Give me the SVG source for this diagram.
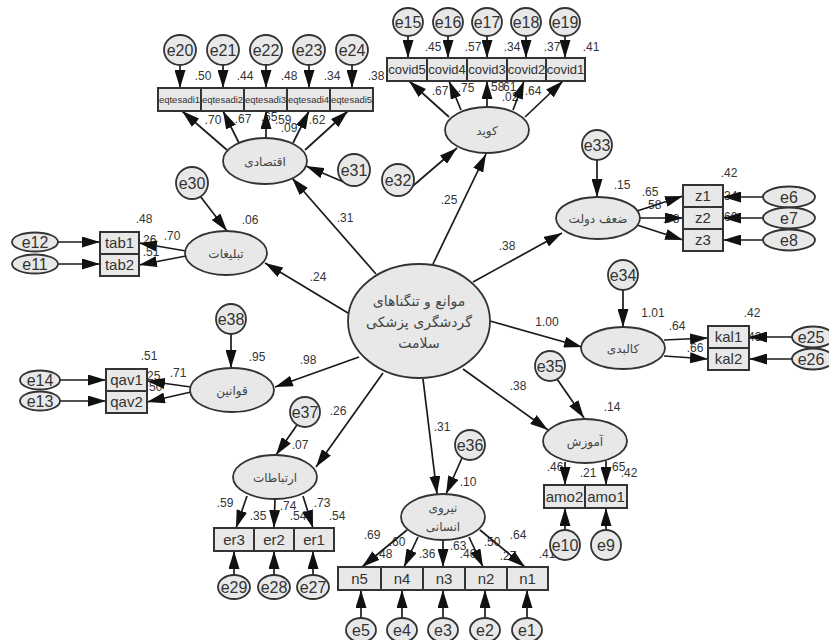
<svg xmlns="http://www.w3.org/2000/svg" width="829" height="640" viewBox="0 0 829 640">
<style>
.n{fill:#e8e8e8;stroke:#333;stroke-width:1.8}
.b{fill:#e8e8e8;stroke:#333;stroke-width:2}
.c{stroke:#1a1a1a;stroke-width:1.7;fill:none;marker-end:url(#a)}
.l{font-family:"Liberation Sans",Arial,sans-serif;font-size:12px;fill:#333;text-anchor:middle}
.e{font-family:"Liberation Sans",Arial,sans-serif;font-size:16px;fill:#333;text-anchor:middle}
.bx{font-family:"Liberation Sans",Arial,sans-serif;font-size:15px;fill:#333;text-anchor:middle}
.cv{font-family:"Liberation Sans",Arial,sans-serif;font-size:13px;fill:#333;text-anchor:middle}
.eq{font-family:"Liberation Sans",Arial,sans-serif;font-size:9.5px;fill:#333;text-anchor:middle}
.fa{font-family:"DejaVu Sans","Noto Sans",sans-serif;font-size:12px;fill:#444;text-anchor:middle}
.fm{font-family:"DejaVu Sans","Noto Sans",sans-serif;font-size:14px;fill:#444;text-anchor:middle}
</style>
<defs>
<marker id="a" markerUnits="userSpaceOnUse" markerWidth="18" markerHeight="11" refX="18" refY="5.5" orient="auto" viewBox="0 0 18 11"><path d="M0,0 L18,5.5 L0,11 z" fill="#111"/></marker>
</defs>
<rect width="829" height="640" fill="#fff"/>
<g id="labels">
<text class="l" x="203" y="80">.50</text><text class="l" x="245" y="80">.44</text><text class="l" x="289" y="80">.48</text><text class="l" x="332" y="80">.34</text><text class="l" x="376" y="80">.38</text>
<text class="l" x="213" y="124">.70</text><text class="l" x="243" y="123">.67</text><text class="l" x="269" y="121">.65</text><text class="l" x="283" y="124">.59</text><text class="l" x="289" y="132">.09</text><text class="l" x="317" y="124">.62</text>
<text class="l" x="433" y="51">.45</text><text class="l" x="473" y="51">.57</text><text class="l" x="512" y="51">.34</text><text class="l" x="552" y="51">.37</text><text class="l" x="591" y="51">.41</text>
<text class="l" x="440" y="95">.67</text><text class="l" x="466" y="92">.75</text><text class="l" x="496" y="91">.58</text><text class="l" x="508" y="91">.61</text><text class="l" x="510" y="101">.02</text><text class="l" x="533" y="95">.64</text>
<text class="l" x="345" y="222">.31</text><text class="l" x="449" y="204">.25</text><text class="l" x="507" y="250">.38</text><text class="l" x="547" y="326">1.00</text><text class="l" x="518" y="390">.38</text><text class="l" x="442" y="431">.31</text><text class="l" x="338" y="415">.26</text><text class="l" x="308" y="364">.98</text><text class="l" x="318" y="281">.24</text>
<text class="l" x="250" y="224">.06</text><text class="l" x="144" y="223">.48</text><text class="l" x="172" y="240">.70</text><text class="l" x="148" y="244">.26</text><text class="l" x="151" y="256">.51</text>
<text class="l" x="149" y="360">.51</text><text class="l" x="178" y="377">.71</text><text class="l" x="152" y="380">.25</text><text class="l" x="154" y="391">.50</text><text class="l" x="257" y="361">.95</text>
<text class="l" x="622" y="189">.15</text><text class="l" x="650" y="196">.65</text><text class="l" x="653" y="209">.58</text><text class="l" x="671" y="223">.78</text><text class="l" x="729" y="177">.42</text><text class="l" x="729" y="200">.34</text><text class="l" x="729" y="221">.60</text>
<text class="l" x="653" y="317">1.01</text><text class="l" x="677" y="330">.64</text><text class="l" x="695" y="352">.66</text><text class="l" x="752" y="317">.42</text><text class="l" x="753" y="341">.43</text>
<text class="l" x="612" y="411">.14</text><text class="l" x="555" y="471">.46</text><text class="l" x="588" y="477">.21</text><text class="l" x="617" y="471">.65</text><text class="l" x="629" y="477">.42</text>
<text class="l" x="300" y="449">.07</text><text class="l" x="225" y="507">.59</text><text class="l" x="258" y="520">.35</text><text class="l" x="288" y="510">.74</text><text class="l" x="298" y="520">.54</text><text class="l" x="322" y="507">.73</text><text class="l" x="337" y="520">.54</text>
<text class="l" x="468" y="486">.10</text>
<text class="l" x="372" y="539">.69</text><text class="l" x="384" y="558">.48</text><text class="l" x="397" y="546">.60</text><text class="l" x="427" y="558">.36</text><text class="l" x="458" y="550">.63</text><text class="l" x="468" y="558">.40</text><text class="l" x="492" y="546">.50</text><text class="l" x="508" y="560">.27</text><text class="l" x="518" y="539">.64</text><text class="l" x="547" y="558">.41</text>
</g>
<g id="connectors">
<path class="c" d="M180,65 L180,88"/><path class="c" d="M223,65 L223,88"/><path class="c" d="M266,65 L266,88"/><path class="c" d="M309,65 L309,88"/><path class="c" d="M352,65 L352,88"/>
<path class="c" d="M408,36 L408,58"/><path class="c" d="M448,36 L448,58"/><path class="c" d="M487,36 L487,58"/><path class="c" d="M526,36 L526,58"/><path class="c" d="M565,36 L565,58"/>
<path class="c" d="M346,183 L306,166"/><path class="c" d="M200,196 L227,231"/><path class="c" d="M407,191 L457,148"/>
<path class="c" d="M597,160 L597,197"/><path class="c" d="M623,290 L623,327"/><path class="c" d="M557,379 L584,418"/><path class="c" d="M462,458 L446,494"/><path class="c" d="M297,425 L276,455"/><path class="c" d="M231,334 L231,368"/>
<path class="c" d="M763,197 L723,197"/><path class="c" d="M763,218 L723,218"/><path class="c" d="M763,240 L723,240"/>
<path class="c" d="M792,337 L749,337"/><path class="c" d="M792,359 L749,359"/>
<path class="c" d="M58,242 L100,242"/><path class="c" d="M58,264 L100,264"/>
<path class="c" d="M60,380 L106,380"/><path class="c" d="M60,401 L106,401"/>
<path class="c" d="M234,575 L234,551"/><path class="c" d="M274,575 L274,551"/><path class="c" d="M313,575 L313,551"/>
<path class="c" d="M361,618 L361,590"/><path class="c" d="M402,618 L402,590"/><path class="c" d="M443,618 L443,590"/><path class="c" d="M485,618 L485,590"/><path class="c" d="M527,618 L527,590"/>
<path class="c" d="M565,530 L565,508"/><path class="c" d="M606,530 L606,508"/>
<path class="c" d="M227,150 L182,111"/><path class="c" d="M239,143 L223,111"/><path class="c" d="M266,138 L266,111"/><path class="c" d="M293,143 L309,111"/><path class="c" d="M305,150 L348,111"/>
<path class="c" d="M449,117 L409,81"/><path class="c" d="M461,110 L449,81"/><path class="c" d="M487,107 L487,81"/><path class="c" d="M513,110 L524,81"/><path class="c" d="M525,117 L563,81"/>
<path class="c" d="M637,211 L683,196"/><path class="c" d="M640,218 L683,218"/><path class="c" d="M637,225 L683,240"/>
<path class="c" d="M664,340 L708,338"/><path class="c" d="M664,356 L708,359"/>
<path class="c" d="M186,251 L139,243"/><path class="c" d="M186,256 L139,265"/>
<path class="c" d="M191,387 L147,381"/><path class="c" d="M191,392 L147,402"/>
<path class="c" d="M247,496 L236,528"/><path class="c" d="M275,499 L274,528"/><path class="c" d="M303,496 L313,528"/>
<path class="c" d="M407,530 L362,567"/><path class="c" d="M418,537 L404,567"/><path class="c" d="M443,540 L443,567"/><path class="c" d="M469,537 L483,567"/><path class="c" d="M480,530 L525,567"/>
<path class="c" d="M565,462 L565,485"/><path class="c" d="M606,461 L606,485"/>
<path class="c" d="M376,274 L292,178"/><path class="c" d="M433,264 L486,154"/><path class="c" d="M473,282 L562,233"/><path class="c" d="M490,321 L582,347"/><path class="c" d="M463,369 L548,430"/><path class="c" d="M423,379 L437,494"/><path class="c" d="M383,373 L316,467"/><path class="c" d="M359,357 L275,387"/><path class="c" d="M348,313 L265,263"/>
</g>
<g id="main"><ellipse class="n" cx="419" cy="321" rx="71" ry="57"/><text class="fm" x="419" y="306">موانع و تنگناهای</text><text class="fm" x="419" y="327">گردشگری پزشکی</text><text class="fm" x="419" y="348">سلامت</text></g>
<g id="eqtesadi"><ellipse class="n" cx="265" cy="161" rx="42" ry="23"/><text class="fa" x="265" y="166">اقتصادی</text></g>
<g id="covid"><ellipse class="n" cx="487" cy="130" rx="42" ry="23"/><text class="fa" x="487" y="135">کوید</text></g>
<g id="zaf"><ellipse class="n" cx="598" cy="218" rx="42" ry="21"/><text class="fa" x="598" y="223">ضعف دولت</text></g>
<g id="kalbadi"><ellipse class="n" cx="623" cy="348" rx="42" ry="21"/><text class="fa" x="623" y="353">کالبدی</text></g>
<g id="amoozesh"><ellipse class="n" cx="585" cy="441" rx="42" ry="22"/><text class="fa" x="585" y="446">آموزش</text></g>
<g id="niroo"><ellipse class="n" cx="443" cy="517" rx="42" ry="23"/><text class="fa" x="443" y="512">نیروی</text><text class="fa" x="443" y="531">انسانی</text></g>
<g id="ertebatat"><ellipse class="n" cx="275" cy="477" rx="42" ry="22"/><text class="fa" x="275" y="482">ارتباطات</text></g>
<g id="ghavanin"><ellipse class="n" cx="232" cy="390" rx="42" ry="22"/><text class="fa" x="232" y="395">قوانین</text></g>
<g id="tablighat"><ellipse class="n" cx="226" cy="253" rx="41" ry="22"/><text class="fa" x="226" y="258">تبلیغات</text></g>
<g id="eqtesadi1"><rect class="b" x="158" y="88" width="43" height="23"/><text class="eq" x="179.5" y="103">eqtesadi1</text></g>
<g id="eqtesadi2"><rect class="b" x="201" y="88" width="43" height="23"/><text class="eq" x="222.5" y="103">eqtesadi2</text></g>
<g id="eqtesadi3"><rect class="b" x="244" y="88" width="43" height="23"/><text class="eq" x="265.5" y="103">eqtesadi3</text></g>
<g id="eqtesadi4"><rect class="b" x="287" y="88" width="43" height="23"/><text class="eq" x="308.5" y="103">eqtesadi4</text></g>
<g id="eqtesadi5"><rect class="b" x="330" y="88" width="43" height="23"/><text class="eq" x="351.5" y="103">eqtesadi5</text></g>
<g id="covid5"><rect class="b" x="387" y="58" width="40" height="23"/><text class="cv" x="407" y="74">covid5</text></g>
<g id="covid4"><rect class="b" x="427" y="58" width="40" height="23"/><text class="cv" x="447" y="74">covid4</text></g>
<g id="covid3"><rect class="b" x="467" y="58" width="40" height="23"/><text class="cv" x="487" y="74">covid3</text></g>
<g id="covid2"><rect class="b" x="507" y="58" width="39" height="23"/><text class="cv" x="526.5" y="74">covid2</text></g>
<g id="covid1"><rect class="b" x="546" y="58" width="39" height="23"/><text class="cv" x="565.5" y="74">covid1</text></g>
<g id="z1"><rect class="b" x="683" y="185" width="40" height="22"/><text class="bx" x="703" y="201">z1</text></g>
<g id="z2"><rect class="b" x="683" y="207" width="40" height="22"/><text class="bx" x="703" y="223">z2</text></g>
<g id="z3"><rect class="b" x="683" y="229" width="40" height="22"/><text class="bx" x="703" y="245">z3</text></g>
<g id="kal1"><rect class="b" x="708" y="326" width="41" height="22"/><text class="bx" x="728.5" y="342">kal1</text></g>
<g id="kal2"><rect class="b" x="708" y="348" width="41" height="22"/><text class="bx" x="728.5" y="364">kal2</text></g>
<g id="tab1"><rect class="b" x="100" y="232" width="39" height="22"/><text class="bx" x="119.5" y="248">tab1</text></g>
<g id="tab2"><rect class="b" x="100" y="254" width="39" height="22"/><text class="bx" x="119.5" y="270">tab2</text></g>
<g id="qav1"><rect class="b" x="106" y="369" width="41" height="22"/><text class="bx" x="126.5" y="385">qav1</text></g>
<g id="qav2"><rect class="b" x="106" y="391" width="41" height="22"/><text class="bx" x="126.5" y="407">qav2</text></g>
<g id="er3"><rect class="b" x="214" y="528" width="40" height="23"/><text class="bx" x="234" y="545">er3</text></g>
<g id="er2"><rect class="b" x="254" y="528" width="40" height="23"/><text class="bx" x="274" y="545">er2</text></g>
<g id="er1"><rect class="b" x="294" y="528" width="40" height="23"/><text class="bx" x="314" y="545">er1</text></g>
<g id="n5"><rect class="b" x="338" y="567" width="43" height="23"/><text class="bx" x="359.5" y="584">n5</text></g>
<g id="n4"><rect class="b" x="381" y="567" width="42" height="23"/><text class="bx" x="402" y="584">n4</text></g>
<g id="n3"><rect class="b" x="423" y="567" width="42" height="23"/><text class="bx" x="444" y="584">n3</text></g>
<g id="n2"><rect class="b" x="465" y="567" width="42" height="23"/><text class="bx" x="486" y="584">n2</text></g>
<g id="n1"><rect class="b" x="507" y="567" width="41" height="23"/><text class="bx" x="527.5" y="584">n1</text></g>
<g id="amo2"><rect class="b" x="544" y="485" width="41" height="23"/><text class="bx" x="564.5" y="502">amo2</text></g>
<g id="amo1"><rect class="b" x="585" y="485" width="42" height="23"/><text class="bx" x="606" y="502">amo1</text></g>
<g id="e20"><ellipse class="n" cx="180" cy="50" rx="16" ry="15"/><text class="e" x="180" y="56">e20</text></g>
<g id="e21"><ellipse class="n" cx="223" cy="50" rx="16" ry="15"/><text class="e" x="223" y="56">e21</text></g>
<g id="e22"><ellipse class="n" cx="266" cy="50" rx="16" ry="15"/><text class="e" x="266" y="56">e22</text></g>
<g id="e23"><ellipse class="n" cx="309" cy="50" rx="16" ry="15"/><text class="e" x="309" y="56">e23</text></g>
<g id="e24"><ellipse class="n" cx="352" cy="50" rx="16" ry="15"/><text class="e" x="352" y="56">e24</text></g>
<g id="e15"><ellipse class="n" cx="408" cy="22" rx="15" ry="14"/><text class="e" x="408" y="28">e15</text></g>
<g id="e16"><ellipse class="n" cx="448" cy="22" rx="15" ry="14"/><text class="e" x="448" y="28">e16</text></g>
<g id="e17"><ellipse class="n" cx="487" cy="22" rx="15" ry="14"/><text class="e" x="487" y="28">e17</text></g>
<g id="e18"><ellipse class="n" cx="526" cy="22" rx="15" ry="14"/><text class="e" x="526" y="28">e18</text></g>
<g id="e19"><ellipse class="n" cx="565" cy="22" rx="15" ry="14"/><text class="e" x="565" y="28">e19</text></g>
<g id="e31"><ellipse class="n" cx="354" cy="170" rx="16" ry="16"/><text class="e" x="354" y="176">e31</text></g>
<g id="e30"><ellipse class="n" cx="192" cy="183" rx="16" ry="16"/><text class="e" x="192" y="189">e30</text></g>
<g id="e32"><ellipse class="n" cx="398" cy="180" rx="16" ry="16"/><text class="e" x="398" y="186">e32</text></g>
<g id="e33"><ellipse class="n" cx="597" cy="145" rx="15" ry="15"/><text class="e" x="597" y="151">e33</text></g>
<g id="e34"><ellipse class="n" cx="623" cy="275" rx="15" ry="15"/><text class="e" x="623" y="281">e34</text></g>
<g id="e35"><ellipse class="n" cx="550" cy="366" rx="15" ry="15"/><text class="e" x="550" y="372">e35</text></g>
<g id="e36"><ellipse class="n" cx="470" cy="445" rx="15" ry="15"/><text class="e" x="470" y="451">e36</text></g>
<g id="e37"><ellipse class="n" cx="305" cy="412" rx="15" ry="15"/><text class="e" x="305" y="418">e37</text></g>
<g id="e38"><ellipse class="n" cx="231" cy="319" rx="15" ry="15"/><text class="e" x="231" y="325">e38</text></g>
<g id="e6"><ellipse class="n" cx="789" cy="197" rx="26" ry="10.5"/><text class="e" x="789" y="203">e6</text></g>
<g id="e7"><ellipse class="n" cx="789" cy="218" rx="26" ry="10.5"/><text class="e" x="789" y="224">e7</text></g>
<g id="e8"><ellipse class="n" cx="789" cy="240" rx="26" ry="10.5"/><text class="e" x="789" y="246">e8</text></g>
<g id="e25"><ellipse class="n" cx="813" cy="337" rx="21" ry="10.5"/><text class="e" x="811" y="343">e25</text></g>
<g id="e26"><ellipse class="n" cx="813" cy="359" rx="21" ry="10.5"/><text class="e" x="811" y="365">e26</text></g>
<g id="e12"><ellipse class="n" cx="35" cy="242" rx="23" ry="9.5"/><text class="e" x="35" y="248">e12</text></g>
<g id="e11"><ellipse class="n" cx="35" cy="264" rx="23" ry="9.5"/><text class="e" x="35" y="270">e11</text></g>
<g id="e14"><ellipse class="n" cx="40" cy="380" rx="20" ry="9.5"/><text class="e" x="40" y="386">e14</text></g>
<g id="e13"><ellipse class="n" cx="40" cy="401" rx="20" ry="9.5"/><text class="e" x="40" y="407">e13</text></g>
<g id="e29"><ellipse class="n" cx="234" cy="587" rx="16" ry="12"/><text class="e" x="234" y="593">e29</text></g>
<g id="e28"><ellipse class="n" cx="274" cy="587" rx="16" ry="12"/><text class="e" x="274" y="593">e28</text></g>
<g id="e27"><ellipse class="n" cx="313" cy="587" rx="16" ry="12"/><text class="e" x="313" y="593">e27</text></g>
<g id="e5"><ellipse class="n" cx="361" cy="630" rx="15" ry="12"/><text class="e" x="361" y="636">e5</text></g>
<g id="e4"><ellipse class="n" cx="402" cy="630" rx="15" ry="12"/><text class="e" x="402" y="636">e4</text></g>
<g id="e3"><ellipse class="n" cx="443" cy="630" rx="15" ry="12"/><text class="e" x="443" y="636">e3</text></g>
<g id="e2"><ellipse class="n" cx="485" cy="630" rx="15" ry="12"/><text class="e" x="485" y="636">e2</text></g>
<g id="e1"><ellipse class="n" cx="527" cy="630" rx="15" ry="12"/><text class="e" x="527" y="636">e1</text></g>
<g id="e10"><ellipse class="n" cx="565" cy="545" rx="15" ry="15"/><text class="e" x="565" y="551">e10</text></g>
<g id="e9"><ellipse class="n" cx="606" cy="545" rx="15" ry="15"/><text class="e" x="606" y="551">e9</text></g>
</svg>
